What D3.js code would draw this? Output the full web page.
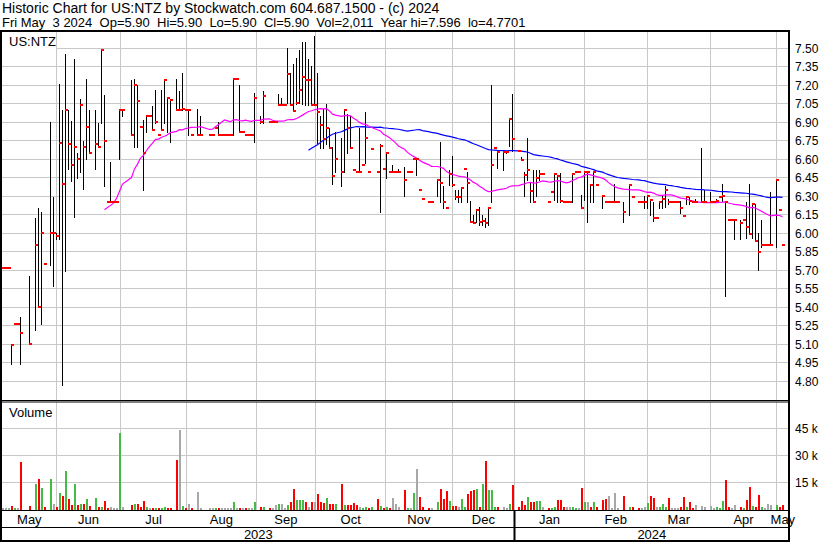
<!DOCTYPE html>
<html><head><meta charset="utf-8">
<script src="https://cdn.jsdelivr.net/npm/d3@7"></script>
<style>
body{margin:0;background:#fff;}
svg text{font-family:"Liberation Sans",Arial,sans-serif;fill:#000;}
</style></head><body>
<svg id="c" width="830" height="543"></svg>
<script>
// ---- data (one slot per weekday, 2023-05-05 .. 2024-05-03; null = no trade) ----
const high = [
5.72,5.72,5.72,5.09,5.26,5.26,5.32,null,null,5.65,
null,6.12,6.20,6.17,5.75,null,6.90,6.29,6.00,7.21,
7.00,7.45,7.00,6.91,7.41,6.65,7.09,6.75,7.25,7.00,
null,7.00,6.89,7.49,7.12,6.25,6.58,6.25,6.25,7.00,
7.00,null,null,7.24,7.25,7.20,6.86,6.92,6.95,6.95,
7.03,7.16,6.80,7.16,7.25,7.10,7.08,null,7.25,7.15,
7.30,7.00,7.00,6.80,null,7.01,6.95,null,null,6.80,
6.80,6.85,6.90,6.80,6.80,6.80,6.80,7.26,7.25,7.20,
6.82,6.80,6.80,6.80,7.14,null,6.95,7.15,null,6.90,
6.90,6.90,7.13,7.10,7.04,7.50,7.30,7.37,7.42,7.49,
7.55,7.55,7.41,7.36,7.60,7.30,6.95,7.01,7.05,6.85,
6.70,6.82,null,6.77,7.00,6.97,6.95,6.51,6.50,6.85,
6.55,6.98,6.50,6.68,null,6.50,6.72,6.52,6.65,6.50,
6.55,6.50,6.52,null,6.54,6.50,6.50,6.60,6.60,6.35,
6.28,null,6.25,6.25,null,6.43,6.74,6.38,6.20,6.51,
6.63,6.35,6.35,6.37,6.52,6.50,6.26,6.15,6.19,6.21,
6.15,6.12,6.20,7.20,6.69,6.67,null,6.67,6.67,6.93,
7.13,null,6.67,6.62,6.50,6.77,6.41,6.51,6.51,6.51,
6.48,null,6.25,6.33,6.49,6.46,6.49,6.25,6.25,6.25,
6.49,6.50,6.50,6.31,6.50,6.50,6.40,6.50,6.39,null,
6.30,6.25,6.25,6.25,6.40,6.25,null,6.25,null,6.40,
6.29,null,6.25,6.25,6.30,6.30,6.28,6.25,6.12,6.25,
6.30,6.38,6.28,6.25,6.25,6.25,6.26,6.14,6.30,6.29,
6.25,6.28,null,6.69,6.35,null,6.33,6.25,6.28,6.29,
6.40,6.26,6.11,6.11,6.11,null,6.11,6.11,6.25,6.40,
6.24,6.24,6.00,6.11,5.90,5.90,6.33,null,6.43,6.19,5.90];
const low = [
5.72,5.72,5.72,4.94,5.26,5.26,4.94,null,null,5.10,
null,5.21,5.40,5.26,5.75,null,5.74,5.57,5.95,5.95,
4.77,5.69,6.52,6.42,6.13,6.45,6.50,6.36,6.60,6.65,
null,6.52,6.70,6.89,6.38,6.25,6.25,6.25,6.25,6.60,
6.95,null,null,6.80,6.70,6.70,6.86,6.35,6.82,6.95,
6.84,6.89,6.80,6.84,6.89,6.82,6.74,null,7.00,7.00,
7.00,7.00,6.80,6.80,null,6.80,6.80,null,null,6.80,
6.80,6.85,6.80,6.80,6.80,6.80,6.80,6.80,7.25,6.82,
6.82,6.80,6.80,6.80,6.74,null,6.89,6.89,null,6.90,
6.90,6.90,7.04,7.04,7.04,7.06,7.04,6.99,7.05,7.06,
7.05,7.04,7.04,7.04,7.04,6.73,6.69,6.69,6.72,6.69,
6.40,6.50,null,6.38,6.50,6.65,6.69,6.51,6.50,6.50,
6.55,6.57,6.50,6.68,null,6.50,6.17,6.52,6.45,6.50,
6.50,6.50,6.50,null,6.30,6.50,6.50,6.60,6.47,6.35,
6.28,null,6.25,6.25,null,6.30,6.25,6.20,6.20,6.39,
6.38,6.28,6.25,6.25,6.52,6.25,6.09,6.09,6.09,6.07,
6.07,6.05,6.07,6.25,6.69,6.53,null,6.51,6.65,6.71,
6.67,null,6.67,6.59,6.30,6.43,6.25,6.25,6.30,6.43,
6.48,null,6.25,6.33,6.27,6.25,6.25,6.25,6.25,6.25,
6.25,6.50,6.50,6.20,6.27,6.09,6.25,6.25,6.39,null,
6.20,6.25,6.25,6.25,6.25,6.25,null,6.09,null,6.15,
6.29,null,6.25,6.25,6.20,6.20,6.15,6.10,6.12,6.20,
6.20,6.21,6.24,6.25,6.25,6.25,6.16,6.14,6.24,6.24,
6.25,6.25,null,6.25,6.25,null,6.25,6.25,6.25,6.29,
6.26,5.49,6.11,6.11,5.95,null,5.95,6.11,5.96,5.99,
5.96,5.94,5.70,5.89,5.90,5.90,5.90,null,5.89,6.19,5.90];
const close = [
5.72,5.72,5.72,5.09,5.26,5.26,5.19,null,null,5.10,
null,5.90,5.40,6.00,5.75,null,6.00,6.00,5.98,6.73,
6.40,7.00,6.72,6.55,6.70,6.60,7.04,6.70,6.86,6.65,
null,6.72,6.70,7.49,6.75,6.25,6.25,6.25,6.25,7.00,
7.00,null,null,6.80,7.20,7.07,6.86,6.65,6.95,6.95,
6.84,6.90,6.80,6.84,7.24,7.10,7.08,null,7.00,7.00,
7.01,7.00,7.00,6.80,null,6.80,6.80,null,null,6.80,
6.80,6.85,6.80,6.80,6.80,6.80,6.80,7.25,7.25,6.82,
6.82,6.80,6.80,6.80,7.10,null,6.90,7.11,null,6.90,
6.90,6.90,7.04,7.04,7.04,7.29,7.04,6.99,7.06,7.16,
7.27,7.24,7.24,7.04,7.04,6.98,6.88,6.76,6.85,6.69,
6.46,6.60,null,6.50,7.00,6.85,6.69,6.51,6.50,6.50,
6.55,6.77,6.50,6.68,null,6.50,6.71,6.52,6.65,6.50,
6.50,6.50,6.50,null,6.43,6.50,6.50,6.60,6.60,6.35,
6.28,null,6.25,6.25,null,6.43,6.41,6.25,6.20,6.48,
6.39,6.29,6.29,6.37,6.52,6.41,6.09,6.08,6.19,6.09,
6.10,6.08,6.20,6.55,6.69,6.66,null,6.66,6.66,6.93,
6.76,null,6.67,6.59,6.47,6.51,6.34,6.25,6.45,6.48,
6.48,null,6.25,6.33,6.48,6.46,6.26,6.25,6.25,6.25,
6.48,6.50,6.50,6.20,6.50,6.50,6.39,6.50,6.39,null,
6.30,6.25,6.25,6.25,6.25,6.25,null,6.17,null,6.39,
6.29,null,6.25,6.25,6.25,6.30,6.27,6.12,6.12,6.25,
6.28,6.35,6.25,6.25,6.25,6.25,6.20,6.14,6.29,6.26,
6.25,6.25,null,6.25,6.25,null,6.25,6.25,6.26,6.29,
6.30,6.25,6.11,6.11,6.11,null,6.08,6.11,6.05,5.99,
6.24,5.94,5.85,5.90,5.90,5.90,5.90,null,6.43,6.19,5.90];
// volume in thousands of shares
const volume = [
0.8,0.8,0.8,1.5,0.8,0.8,26.5,0,0,1.5,
0,13.8,16.8,11.8,1.0,0,16.8,2.8,1.0,9.0,
7.3,21.3,5.6,2.2,14,2.2,2.8,2.8,5.6,1.5,
0,6.0,1.0,1.1,4.5,0.8,1.0,0.8,0.8,42.8,
1.0,0,0,2.2,2.8,2.8,1.1,4.5,1.0,0.6,
0.8,0.8,0.6,0.8,1.0,0.8,0.8,0,27.5,44.3,
1.7,0.8,2.8,0.8,0,9.3,0.8,0,0,0.5,
0.5,0.6,0.6,0.5,0.5,0.5,0.5,3.9,0.8,0.8,
0.6,0.6,0.6,0.5,3.9,0,1.1,1.1,0,0.8,
0.8,2.2,2.9,2.9,0.8,2.2,3.7,11.2,5.0,5.0,
5.0,3.7,1.0,4.1,3.7,8.6,4.1,3.6,6.4,2.6,
2.6,2.6,0,14,2.2,2.2,2.2,3.2,2.2,1.0,
0.8,1.0,0.8,1.0,0,5.7,1.5,0.8,1.0,0.8,
6.0,2.9,1.0,0,10.7,0.8,0.8,9.2,22.6,6.8,
1.0,0,0.8,0.8,0,4.1,11.4,5.8,10.3,4.5,
1.5,1.5,1.0,5.6,1.0,8.6,9.9,10.7,11.2,1.0,
13.8,27.1,10.7,10.7,1.0,1.0,0,1.0,0.8,3.0,
13.2,0,1.1,4.5,2.0,7.0,4.1,4.1,4.5,4.5,
1.1,0,0.8,0.8,1.0,5.2,5.2,1.0,1.0,1.0,
1.0,0.8,0.8,11.9,4.1,4.1,1.0,4.1,1.0,0,
4.8,5.6,7.3,0.8,8.7,0.8,0,7.3,0,1.4,
1.4,0,0.6,0.8,1.0,3.1,7.3,6.2,1.0,1.0,
2.8,1.0,6.2,0.8,0.8,0.8,1.0,6.9,1.0,4.1,
0.8,2.4,0,1.5,1.0,0,1.7,0.8,1.0,0.8,
4.5,16.3,1.0,0.8,2.2,0,1.0,0.8,4.9,12.5,
1.7,1.0,8.0,1.0,0.8,2.6,2.2,0,2.2,1.0,2.0];
const priceTicks = [7.50,7.35,7.20,7.05,6.90,6.75,6.60,6.45,6.30,6.15,6.00,5.85,5.70,5.55,5.40,5.25,5.10,4.95,4.80];
const volTicks = [15,30,45];
// month boundaries, in slot units
const monthTickPos = [18.23,39.43,61.57,84.67,104.57,127.9,150,170.9,194.1,215.1,236.1,258.23];
const monthLabels = ["May","Jun","Jul","Aug","Sep","Oct","Nov","Dec","Jan","Feb","Mar","Apr","May"];
const yearLabels = ["2023","2024"];
const yearBoundaryTick = 7; // index into monthTickPos (Jan)
const maShort = 30, maLong = 90;
const header1 = "Historic Chart for US:NTZ by Stockwatch.com 604.687.1500 - (c) 2024";
const header2 = "Fri May  3 2024  Op=5.90  Hi=5.90  Lo=5.90  Cl=5.90  Vol=2,011  Year hi=7.596  lo=4.7701";

// ---- layout ----
const svg = d3.select("#c");
const L = 2, R = 788;
const pTop = 32, pBot = 400, vTop = 402, vBot = 510;
const x = d3.scaleLinear().domain([0, 260]).range([2, 782]);
const yP = d3.scaleLinear().domain([4.80, 7.50]).range([381, 48.3]);
const yV = d3.scaleLinear().domain([0, 45]).range([509, 428.7]);
const GRID = "#c8c8c8";
const px = v => Math.floor(v) + 0.5;

svg.append("rect").attr("width", 830).attr("height", 543).attr("fill", "#fff");

// header
svg.append("text").attr("x", 2).attr("y", 13).attr("font-size", 14).text(header1);
svg.append("text").attr("x", 2).attr("y", 27).attr("font-size", 13).attr("xml:space","preserve").style("white-space","pre").text(header2);

// clip paths
const defs = svg.append("defs");
defs.append("clipPath").attr("id","cp").append("rect").attr("x",L).attr("y",pTop).attr("width",R-L).attr("height",pBot-pTop);
defs.append("clipPath").attr("id","cv").append("rect").attr("x",L).attr("y",vTop).attr("width",R-L).attr("height",vBot-vTop);

const gP = svg.append("g").attr("clip-path","url(#cp)");
const gV = svg.append("g").attr("clip-path","url(#cv)");

// price grid
gP.selectAll("line.h").data(priceTicks).join("line")
  .attr("x1", L).attr("x2", R).attr("y1", d => px(yP(d))).attr("y2", d => px(yP(d)))
  .attr("stroke", GRID).attr("stroke-width", 1);
gP.selectAll("line.v").data(monthTickPos).join("line")
  .attr("x1", d => px(x(d))).attr("x2", d => px(x(d))).attr("y1", pTop).attr("y2", pBot)
  .attr("stroke", GRID).attr("stroke-width", 1);
// volume grid
gV.selectAll("line.h").data(volTicks).join("line")
  .attr("x1", L).attr("x2", R).attr("y1", d => px(yV(d))).attr("y2", d => px(yV(d)))
  .attr("stroke", GRID).attr("stroke-width", 1);
gV.selectAll("line.v").data(monthTickPos).join("line")
  .attr("x1", d => px(x(d))).attr("x2", d => px(x(d))).attr("y1", vTop).attr("y2", vBot)
  .attr("stroke", GRID).attr("stroke-width", 1);

// label boxes
gP.append("rect").attr("x", L).attr("y", pTop).attr("width", 54).attr("height", 17).attr("fill", "#fff");
gP.append("text").attr("x", 9).attr("y", 46).attr("font-size", 13).text("US:NTZ");
gV.append("rect").attr("x", L).attr("y", vTop).attr("width", 54).attr("height", 18).attr("fill", "#fff");
gV.append("text").attr("x", 9).attr("y", 417).attr("font-size", 13).text("Volume");

// bars
const idx = d3.range(high.length).filter(i => close[i] != null);
gP.selectAll("line.bar").data(idx.filter(i => high[i] - low[i] > 0.001)).join("line")
  .attr("x1", i => Math.round(x(i)) + 0.5).attr("x2", i => Math.round(x(i)) + 0.5)
  .attr("y1", i => Math.round(yP(high[i]))).attr("y2", i => Math.round(yP(low[i])) + 1)
  .attr("stroke", "#000").attr("stroke-width", 1);

// moving averages over traded bars
function sma(n) {
  const out = [];
  for (let k = n - 1; k < idx.length; k++) {
    const s = d3.sum(idx.slice(k - n + 1, k + 1), i => close[i]);
    out.push([idx[k], s / n]);
  }
  return out;
}
const line = d3.line().x(d => x(d[0]) + 0.5).y(d => yP(d[1]));
gP.append("path").datum(sma(maLong)).attr("d", line).attr("fill","none").attr("stroke","#0000ff").attr("stroke-width",1.2);
gP.append("path").datum(sma(maShort)).attr("d", line).attr("fill","none").attr("stroke","#ff00ff").attr("stroke-width",1.2);

// close ticks
gP.selectAll("rect.cl").data(idx).join("rect")
  .attr("x", i => Math.round(x(i))).attr("y", i => Math.round(yP(close[i])) - 1)
  .attr("width", 3).attr("height", 2).attr("fill", "#ff0000");

// volume bars (colour by change of close)
function dir(k) {
  const i = idx[k];
  if (k === 0) return 0;
  const d = close[i] - close[idx[k - 1]];
  return Math.abs(d) < 0.004 ? 0 : (d > 0 ? 1 : -1);
}
const vcol = {"-1": "#ff0000", "0": "#a8a8a8", "1": "#44bb44"};
const vdata = idx.map((i, k) => ({i, v: volume[i], c: vcol[dir(k)]})).filter(d => d.v > 0);
gV.selectAll("rect.vb").data(vdata).join("rect")
  .attr("x", d => Math.round(x(d.i))).attr("y", d => Math.round(yV(d.v)))
  .attr("width", 2).attr("height", d => Math.max(1, vBot - Math.round(yV(d.v))))
  .attr("fill", d => d.c);

// right axis labels
svg.selectAll("text.pt").data(priceTicks).join("text")
  .attr("x", 795).attr("y", d => yP(d) + 4.5).attr("font-size", 12).text(d => d.toFixed(2));
svg.selectAll("text.vt").data(volTicks).join("text")
  .attr("x", 795).attr("y", d => yV(d) + 4.5).attr("font-size", 12).text(d => d + " k");

// month labels
const bounds = [L].concat(monthTickPos.map(d => x(d)), [R + 1]);
svg.selectAll("text.m").data(monthLabels).join("text")
  .attr("x", (d, k) => (bounds[k] + bounds[k + 1]) / 2).attr("y", 524)
  .attr("text-anchor", "middle").attr("font-size", 13).text(d => d);
const yb = [L, x(monthTickPos[yearBoundaryTick]), R + 1];
svg.selectAll("text.yr").data(yearLabels).join("text")
  .attr("x", (d, k) => (yb[k] + yb[k + 1]) / 2).attr("y", 539)
  .attr("text-anchor", "middle").attr("font-size", 13).text(d => d);

// frame
const fr = svg.append("g").attr("fill", "#000");
fr.append("rect").attr("x", 0).attr("y", 30).attr("width", 790).attr("height", 2);
fr.append("rect").attr("x", 0).attr("y", 30).attr("width", 2).attr("height", 512);
fr.append("rect").attr("x", 788).attr("y", 30).attr("width", 2).attr("height", 512);
fr.append("rect").attr("x", 0).attr("y", 400).attr("width", 790).attr("height", 1);
fr.append("rect").attr("x", 0).attr("y", 401.5).attr("width", 790).attr("height", 1);
fr.append("rect").attr("x", 0).attr("y", 510).attr("width", 790).attr("height", 1);
fr.append("rect").attr("x", 0).attr("y", 527).attr("width", 790).attr("height", 1);
fr.append("rect").attr("x", 0).attr("y", 540).attr("width", 790).attr("height", 2);
fr.append("rect").attr("x", Math.floor(x(monthTickPos[yearBoundaryTick])) - 0.5).attr("y", 510).attr("width", 2).attr("height", 31);
</script>
</body></html>
